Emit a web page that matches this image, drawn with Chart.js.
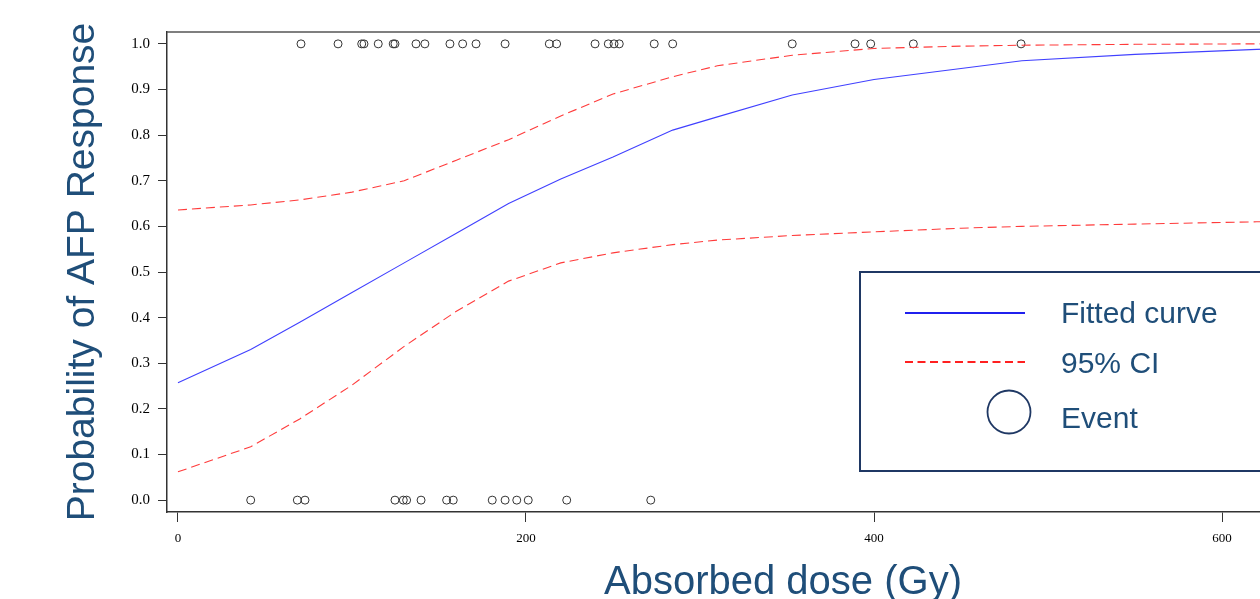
<!DOCTYPE html>
<html>
<head>
<meta charset="utf-8">
<script src="https://cdn.jsdelivr.net/npm/chart.js@4"></script>
<style>
  html, body { margin: 0; padding: 0; background: #fff; width: 1260px; height: 599px; overflow: hidden; }
  #wrap { width: 1410px; height: 599px; }
</style>
</head>
<body>
<div id="wrap"><canvas id="myChart" width="1410" height="599"></canvas></div>
<script>
const curveDose = [0, 41.8, 70, 100, 130, 160, 190, 220, 250, 284.3, 310, 353, 400, 450, 485, 550, 620, 650, 700];
const fitted    = [0.257, 0.330, 0.390, 0.455, 0.520, 0.585, 0.650, 0.704, 0.752, 0.811, 0.840, 0.888, 0.922, 0.946, 0.963, 0.977, 0.988, 0.991, 0.994];
const upperCI   = [0.636, 0.647, 0.658, 0.675, 0.700, 0.745, 0.790, 0.842, 0.890, 0.928, 0.952, 0.975, 0.990, 0.995, 0.997, 0.999, 1.0, 1.0, 1.0];
const lowerCI   = [0.062, 0.117, 0.178, 0.252, 0.337, 0.414, 0.480, 0.520, 0.542, 0.560, 0.570, 0.580, 0.588, 0.596, 0.600, 0.605, 0.610, 0.612, 0.614];

// observed events (response = 1) and non-events (response = 0)
const responders = [70.7, 92.0, 105.6, 106.9, 115.1, 123.7, 124.7, 136.8, 141.9, 156.3, 163.6, 171.3, 188.0,
  213.4, 217.6, 239.7, 247.3, 250.6, 253.6, 273.7, 284.3, 353.0, 389.1, 398.1, 422.6, 484.5];
const nonResponders = [41.8, 68.6, 73.0, 124.7, 129.5, 131.4, 139.7, 154.4, 158.2, 180.6, 188.0, 194.7, 201.3, 223.4, 271.7];

const xTicks = [0, 200, 400, 600];
const yTicks = [0, 0.1, 0.2, 0.3, 0.4, 0.5, 0.6, 0.7, 0.8, 0.9, 1.0];

const legendItems = ["Fitted curve", "95% CI", "Event"];

const titleColor = "#1f4e79";
const navy = "#1f3864";

function toPoints(xs, ys) {
  return xs.map((x, i) => ({ x: x, y: ys[i] }));
}

const eventPoints = responders.map(d => ({ x: d, y: 1 })).concat(nonResponders.map(d => ({ x: d, y: 0 })));

const lineStyle = {
  type: "line",
  pointRadius: 0,
  borderWidth: 1.1,
  tension: 0,
  fill: false
};

const data = {
  datasets: [
    Object.assign({}, lineStyle, { label: "Fitted curve", data: toPoints(curveDose, fitted), borderColor: "#4040ff" }),
    Object.assign({}, lineStyle, { label: "Upper", data: toPoints(curveDose, upperCI), borderColor: "#ff3b3b", borderDash: [9, 5] }),
    Object.assign({}, lineStyle, { label: "Lower", data: toPoints(curveDose, lowerCI), borderColor: "#ff3b3b", borderDash: [9, 5] }),
    {
      type: "scatter",
      label: "Event",
      data: eventPoints,
      pointStyle: "circle",
      pointRadius: 4,
      borderWidth: 1,
      borderColor: "#333",
      backgroundColor: "rgba(0,0,0,0)"
    }
  ]
};

// top frame line + legend box drawn inside the plot
const framePlugin = {
  id: "frame",
  afterDraw(chart) {
    const { ctx, chartArea } = chart;
    ctx.save();
    ctx.strokeStyle = "#555";
    ctx.lineWidth = 1.5;
    ctx.beginPath();
    ctx.moveTo(chartArea.left, chartArea.top);
    ctx.lineTo(chartArea.right, chartArea.top);
    ctx.stroke();

    // legend
    ctx.strokeStyle = navy;
    ctx.lineWidth = 2;
    ctx.strokeRect(860, 272, 530, 199);

    ctx.strokeStyle = "#2020ee";
    ctx.lineWidth = 1.8;
    ctx.beginPath();
    ctx.moveTo(905, 313);
    ctx.lineTo(1025, 313);
    ctx.stroke();

    ctx.strokeStyle = "#ff2020";
    ctx.setLineDash([8, 4.5]);
    ctx.beginPath();
    ctx.moveTo(905, 362);
    ctx.lineTo(1025, 362);
    ctx.stroke();
    ctx.setLineDash([]);

    ctx.strokeStyle = navy;
    ctx.lineWidth = 1.8;
    ctx.beginPath();
    ctx.arc(1009, 412, 21.5, 0, Math.PI * 2);
    ctx.stroke();

    ctx.fillStyle = titleColor;
    ctx.font = "30px 'Liberation Sans', Arial, sans-serif";
    ctx.textBaseline = "alphabetic";
    ctx.textAlign = "left";
    ctx.fillText(legendItems[0], 1061, 323);
    ctx.fillText(legendItems[1], 1061, 373);
    ctx.fillText(legendItems[2], 1061, 428);
    ctx.restore();
  }
};

const config = {
  data: data,
  options: {
    responsive: false,
    animation: false,
    devicePixelRatio: 1,
    layout: { padding: { top: 32, right: 11, left: 0, bottom: 0 } },
    plugins: {
      legend: { display: false },
      tooltip: { enabled: false }
    },
    scales: {
      x: {
        type: "linear",
        min: -6.3,
        max: 701.7,
        afterBuildTicks: (scale) => { scale.ticks = xTicks.map(v => ({ value: v })); },
        afterFit: (scale) => { scale.height = 87; },
        border: { display: true, color: "#333", width: 1.5 },
        grid: { display: true, drawOnChartArea: false, drawTicks: true, tickLength: 10, color: "#333" },
        ticks: {
          padding: 9,
          color: "#000",
          maxRotation: 0,
          font: { family: "'Liberation Serif', 'Times New Roman', serif", size: 13 }
        },
        title: {
          display: true,
          text: "Absorbed dose (Gy)",
          color: titleColor,
          padding: { top: 0, bottom: -8 },
          font: { family: "'Liberation Sans', Arial, sans-serif", size: 40 }
        }
      },
      y: {
        type: "linear",
        min: -0.026,
        max: 1.026,
        afterBuildTicks: (scale) => { scale.ticks = yTicks.map(v => ({ value: v })); },
        afterFit: (scale) => { scale.width = 167; },
        border: { display: true, color: "#333", width: 1.5 },
        grid: { display: true, drawOnChartArea: false, drawTicks: true, tickLength: 9, color: "#333" },
        ticks: {
          padding: 8,
          color: "#000",
          callback: (v) => Number(v).toFixed(1),
          font: { family: "'Liberation Serif', 'Times New Roman', serif", size: 15 }
        },
        title: {
          display: true,
          text: "Probability of AFP Response",
          color: titleColor,
          padding: { top: 60, bottom: 0 },
          font: { family: "'Liberation Sans', Arial, sans-serif", size: 39 }
        }
      }
    }
  },
  plugins: [framePlugin]
};

const ctx = document.getElementById("myChart");
const myChart = new Chart(ctx, config);
</script>
</body>
</html>
